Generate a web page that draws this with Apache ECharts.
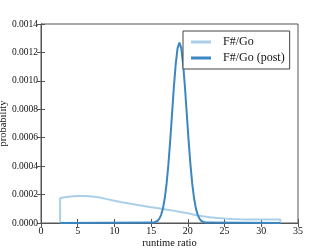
<!DOCTYPE html>
<html><head><meta charset="utf-8">
<script src="https://cdn.jsdelivr.net/npm/echarts@6/dist/echarts.min.js"></script>
<style>html,body{margin:0;padding:0;background:#fff}#c{width:332px;height:249px}</style>
</head><body><div id="c"></div>
<script>
var xTicks = [0, 5, 10, 15, 20, 25, 30, 35];
var yTicks = [0, 0.0002, 0.0004, 0.0006, 0.0008, 0.0010, 0.0012, 0.0014];
var seriesNames = ['F#/Go', 'F#/Go (post)'];
// prior (light)
var priorX = [2.6, 2.6, 3, 4, 5, 6, 7, 8, 9, 10, 11, 12, 13, 14, 15, 16, 17, 18, 19, 20, 21, 22, 23, 24, 25, 26, 27, 28, 30, 32.6, 32.6];
var priorY = [0, 0.000174, 0.000180, 0.000186, 0.000190, 0.000190, 0.000186, 0.000179, 0.000168, 0.000157, 0.000146, 0.000137, 0.000128, 0.000119, 0.000111, 0.000103, 0.000095, 0.000087, 0.000078, 0.000068, 0.000057, 0.000047, 0.000040, 0.000035, 0.000031, 0.000028, 0.000026, 0.000025, 0.000024, 0.000024, 0];
// posterior (dark)
var postX = [2.6, 15.35, 15.85, 16.1, 16.35, 16.6, 16.85, 17.1, 17.35, 17.6, 17.85, 18.1, 18.35, 18.6, 18.85, 19.1, 19.35, 19.6, 19.85, 20.1, 20.35, 20.6, 20.85, 21.1, 21.35, 21.6, 21.85, 22.35, 32.6];
var postY = [0, 0.0000028, 0.0000141, 0.0000289, 0.0000557, 0.000101, 0.000172, 0.000275, 0.000412, 0.000581, 0.000770, 0.000959, 0.00112, 0.00123, 0.00127, 0.00123, 0.00112, 0.000959, 0.000770, 0.000581, 0.000412, 0.000275, 0.000172, 0.000101, 0.0000557, 0.0000289, 0.0000141, 0.0000028, 0];

function pairs(xs, ys) { return xs.map(function (x, i) { return [x, ys[i]]; }); }
var font = 'Liberation Serif';
var axisCommon = {
  axisLine: { show: true, lineStyle: { color: '#555', width: 1 } },
  axisTick: { show: true, inside: true, length: 4, lineStyle: { color: '#555' } },
  splitLine: { show: false }
};
var chart = echarts.init(document.getElementById('c'), null, { renderer: 'canvas' });
chart.setOption({
  animation: false,
  backgroundColor: '#fff',
  textStyle: { fontFamily: font },
  grid: { left: 41, right: 34, top: 24, bottom: 26, containLabel: false, outerBoundsMode: 'none', show: true, borderColor: '#555', borderWidth: 1 },
  legend: {
    data: seriesNames, orient: 'vertical', left: 183, top: 31,
    padding: [5, 5, 5, 8], itemGap: 4, itemWidth: 20, itemHeight: 3,
    icon: 'rect', borderColor: '#444', borderWidth: 1, backgroundColor: '#fff',
    textStyle: { fontFamily: font, fontSize: 12, color: '#111', padding: [0, 0, 0, 7] }
  },
  xAxis: [
    Object.assign({ type: 'value', min: 0, max: 35, interval: 5, name: 'runtime ratio', nameLocation: 'middle', nameGap: 15, nameMoveOverlap: false,
      nameTextStyle: { fontFamily: font, fontSize: 10.5, color: '#111' },
      axisLabel: { fontFamily: font, fontSize: 10, color: '#111', margin: 3 } }, axisCommon),
    Object.assign({ type: 'value', min: 0, max: 35, interval: 5, position: 'top', axisLabel: { show: false } }, axisCommon)
  ],
  yAxis: [
    Object.assign({ type: 'value', min: 0, max: 0.0014, interval: 0.0002, name: 'probability', nameLocation: 'middle', nameGap: 32, nameMoveOverlap: false,
      nameTextStyle: { fontFamily: font, fontSize: 10.5, color: '#111' },
      axisLabel: { fontFamily: font, fontSize: 9.5, color: '#111', margin: 3, formatter: function (v) { return v.toFixed(4); } } }, axisCommon),
    Object.assign({ type: 'value', min: 0, max: 0.0014, interval: 0.0002, position: 'right', axisLabel: { show: false } }, axisCommon)
  ],
  series: [
    { name: seriesNames[0], type: 'line', data: pairs(priorX, priorY), showSymbol: false, smooth: false,
      lineStyle: { color: '#a9d0e8', width: 2 }, itemStyle: { color: '#a9d0e8' }, z: 2 },
    { name: seriesNames[1], type: 'line', data: pairs(postX, postY), showSymbol: false, smooth: false,
      lineStyle: { color: '#3b87c3', width: 2 }, itemStyle: { color: '#3b87c3' }, z: 3 }
  ]
});
</script></body></html>
